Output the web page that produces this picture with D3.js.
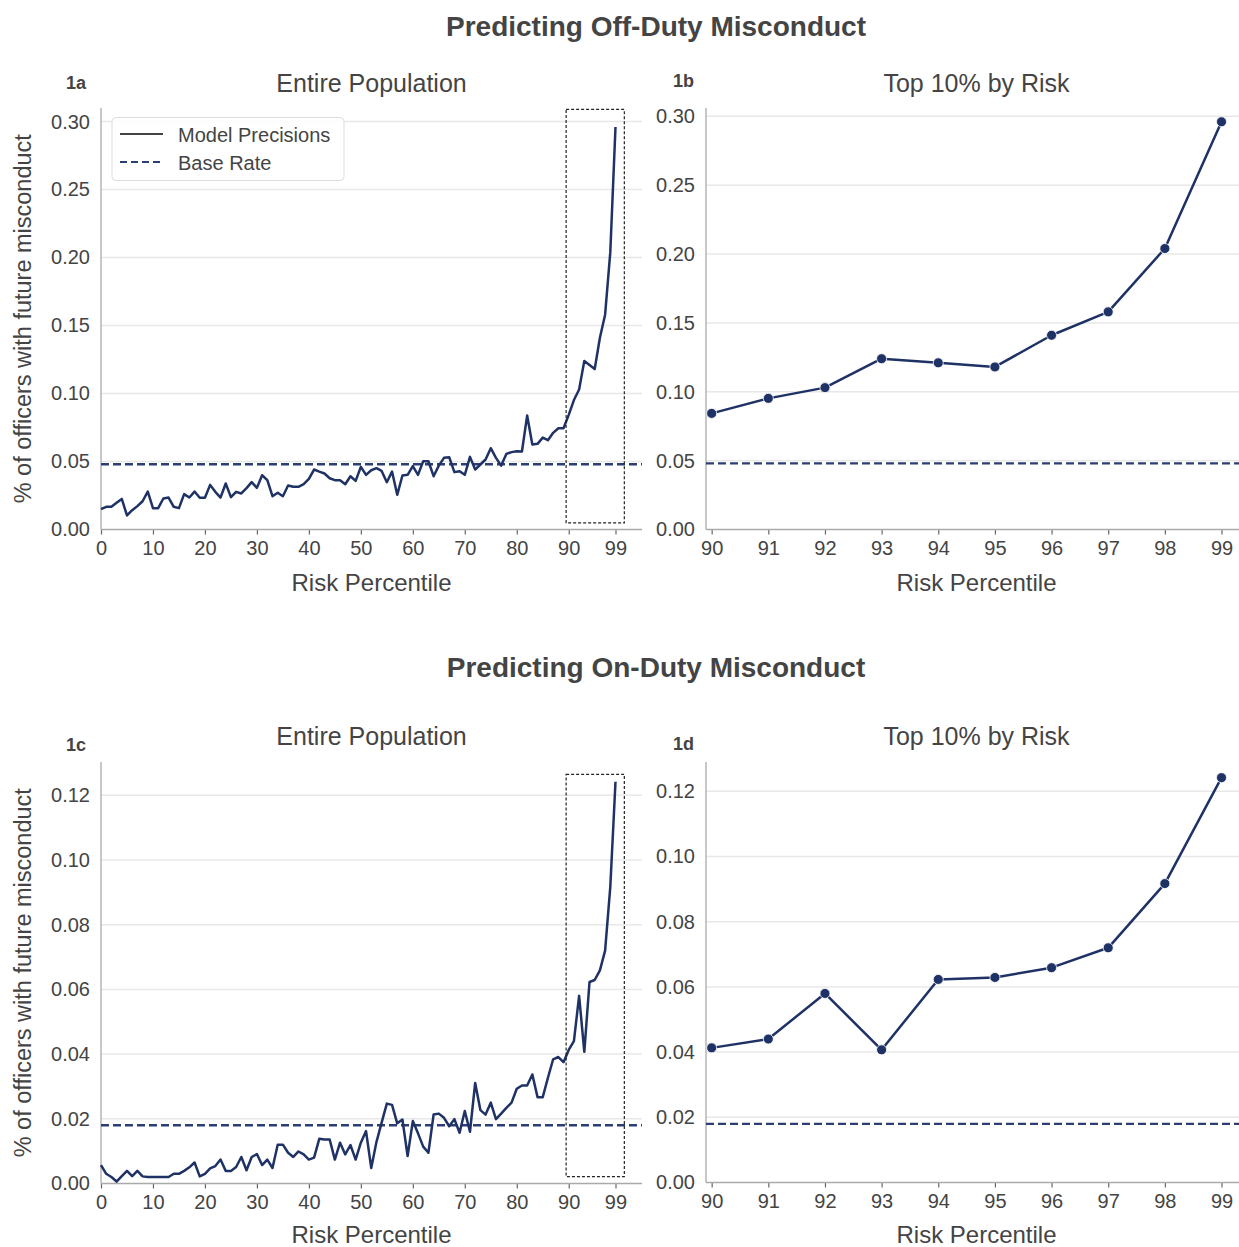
<!DOCTYPE html>
<html>
<head>
<meta charset="utf-8">
<script src="https://cdn.jsdelivr.net/npm/d3@7"></script>
<style>
  html, body { margin: 0; padding: 0; background: #fff; }
  svg { display: block; font-family: "Liberation Sans", Arial, sans-serif; }
</style>
</head>
<body>
<div id="chart"></div>
<script>
// risk percentiles 0..99
const percentiles = d3.range(100);
const topPercentiles = [90, 91, 92, 93, 94, 95, 96, 97, 98, 99];

// off-duty model precision by percentile
const offDuty = [
  0.015, 0.0167, 0.0167, 0.0196, 0.0225, 0.0103, 0.0142, 0.0172, 0.0208, 0.0279,
  0.0157, 0.0157, 0.0228, 0.0235, 0.0167, 0.0157, 0.026, 0.0235, 0.0279, 0.0233,
  0.0233, 0.0328, 0.0277, 0.0235, 0.0338, 0.0238, 0.0277, 0.0265, 0.0304, 0.0348,
  0.0306, 0.0399, 0.0363, 0.0245, 0.027, 0.0245, 0.0324, 0.0314, 0.0314, 0.0333,
  0.0372, 0.0441, 0.0426, 0.0412, 0.0377, 0.0363, 0.0363, 0.0333, 0.0392, 0.0358,
  0.0461, 0.0402, 0.0436, 0.0451, 0.0431, 0.0348, 0.0426, 0.0255, 0.0397, 0.0402,
  0.0466, 0.0402, 0.0502, 0.0502, 0.0392, 0.047, 0.0527, 0.0532, 0.0422, 0.0429,
  0.0402, 0.0534, 0.0441, 0.0478, 0.0515, 0.0598, 0.0527, 0.047, 0.0556, 0.0569,
  0.0576, 0.0574, 0.0838, 0.0625, 0.063, 0.0676, 0.0657, 0.0711, 0.0745, 0.0745,
  0.0843, 0.0952, 0.103, 0.124, 0.121, 0.118, 0.141, 0.158, 0.204, 0.296
];

// on-duty model precision by percentile
const onDuty = [
  0.0057, 0.003, 0.002, 0.0006, 0.0023, 0.0039, 0.0023, 0.0039, 0.0022, 0.002,
  0.002, 0.002, 0.002, 0.002, 0.003, 0.003, 0.0039, 0.005, 0.0065, 0.0022,
  0.003, 0.0047, 0.0054, 0.0074, 0.0039, 0.0039, 0.0051, 0.0082, 0.0041, 0.0082,
  0.0091, 0.0057, 0.0074, 0.0048, 0.012, 0.012, 0.0095, 0.0082, 0.0099, 0.009,
  0.0074, 0.008, 0.0138, 0.0136, 0.0136, 0.0074, 0.0126, 0.009, 0.0119, 0.0074,
  0.0126, 0.0162, 0.0048, 0.0128, 0.0188, 0.0247, 0.0243, 0.0186, 0.0198, 0.0085,
  0.0193, 0.0155, 0.0114, 0.0095, 0.0213, 0.0216, 0.0203, 0.0177, 0.0199, 0.0157,
  0.0224, 0.016, 0.0311, 0.0227, 0.0213, 0.025, 0.0199, 0.0216, 0.0234, 0.025,
  0.0293, 0.0303, 0.0303, 0.0337, 0.0267, 0.0267, 0.0327, 0.0384, 0.0391, 0.0375,
  0.0413, 0.044, 0.058, 0.0407, 0.0623, 0.0629, 0.0659, 0.072, 0.0917, 0.1242
];

const offBaseRate = 0.048;
const onBaseRate = 0.018;

const xTicksFull = [0, 10, 20, 30, 40, 50, 60, 70, 80, 90, 99];
const yTicksOff = [0, 0.05, 0.1, 0.15, 0.2, 0.25, 0.3];
const yTicksOn = [0, 0.02, 0.04, 0.06, 0.08, 0.1, 0.12];

const suptitles = ["Predicting Off-Duty Misconduct", "Predicting On-Duty Misconduct"];
const legendLabels = ["Model Precisions", "Base Rate"];

const W = 1239, H = 1247;
const navy = "#1f3266";
const dashNavy = "#2c3f74";
const textColor = "#444";

const svg = d3.select("#chart").append("svg")
  .attr("width", W).attr("height", H)
  .attr("viewBox", `0 0 ${W} ${H}`);

svg.append("text").attr("x", 656).attr("y", 36)
  .attr("text-anchor", "middle").attr("font-size", 28).attr("font-weight", "bold")
  .attr("fill", textColor).text(suptitles[0]);
svg.append("text").attr("x", 656).attr("y", 677)
  .attr("text-anchor", "middle").attr("font-size", 28).attr("font-weight", "bold")
  .attr("fill", textColor).text(suptitles[1]);

const panels = [
  { tag: "1a", title: "Entire Population", x: percentiles, y: offDuty, base: offBaseRate,
    left: 101, right: 642, top: 108, bottom: 529.5, xDomain: [0, 104.1], yMax: 0.31,
    xTicks: xTicksFull, yTicks: yTicksOff, full: true, rect: [89.5, 100.7, 0.0048, 0.309],
    titleY: 92, tagX: 76, tagY: 88.5, ylabel: true, legend: true },
  { tag: "1b", title: "Top 10% by Risk", x: topPercentiles, y: offDuty.slice(90), base: offBaseRate,
    left: 706, right: 1247, top: 108, bottom: 529.5, xDomain: [89.9, 99.45], yMax: 0.306,
    xTicks: topPercentiles, yTicks: yTicksOff, full: false,
    titleY: 92, tagX: 683.5, tagY: 87 },
  { tag: "1c", title: "Entire Population", x: percentiles, y: onDuty, base: onBaseRate,
    left: 101, right: 642, top: 762, bottom: 1183.5, xDomain: [0, 104.1], yMax: 0.1303,
    xTicks: xTicksFull, yTicks: yTicksOn, full: true, rect: [89.5, 100.7, 0.0021, 0.1265],
    titleY: 745, tagX: 76, tagY: 751, ylabel: true },
  { tag: "1d", title: "Top 10% by Risk", x: topPercentiles, y: onDuty.slice(90), base: onBaseRate,
    left: 706, right: 1247, top: 762, bottom: 1182.5, xDomain: [89.9, 99.45], yMax: 0.129,
    xTicks: topPercentiles, yTicks: yTicksOn, full: false,
    titleY: 745, tagX: 683.5, tagY: 750 }
];

panels.forEach(drawPanel);

function drawPanel(p) {
  const x = d3.scaleLinear().domain(p.xDomain).range([p.left, p.right]);
  const y = d3.scaleLinear().domain([0, p.yMax]).range([p.bottom, p.top]);
  const g = svg.append("g");

  // horizontal grid
  g.append("g").selectAll("line").data(p.yTicks.filter((t) => t > 0)).join("line")
    .attr("x1", p.left).attr("x2", p.right)
    .attr("y1", (d) => y(d)).attr("y2", (d) => y(d))
    .attr("stroke", "#e8e8e8").attr("stroke-width", 1.5);

  // y axis (labels only, no ticks)
  const yAxis = g.append("g").attr("transform", `translate(${p.left},0)`)
    .call(d3.axisLeft(y).tickValues(p.yTicks).tickFormat(d3.format(".2f")).tickSize(0).tickPadding(11));
  yAxis.select(".domain").remove();
  yAxis.selectAll("text").attr("font-size", 20).attr("fill", textColor)
    .attr("font-family", "Liberation Sans, Arial, sans-serif");

  // x axis
  const xAxis = g.append("g").attr("transform", `translate(0,${p.bottom})`)
    .call(d3.axisBottom(x).tickValues(p.xTicks).tickFormat(d3.format("d")).tickSize(5).tickPadding(6));
  xAxis.select(".domain").remove();
  xAxis.selectAll("line").attr("stroke", "#666").attr("stroke-width", 1.2);
  xAxis.selectAll("text").attr("font-size", 20).attr("fill", textColor)
    .attr("font-family", "Liberation Sans, Arial, sans-serif");

  // spines
  g.append("line").attr("x1", p.left).attr("x2", p.left).attr("y1", p.top).attr("y2", p.bottom)
    .attr("stroke", "#aaa").attr("stroke-width", 1.3);
  g.append("line").attr("x1", p.left).attr("x2", p.right).attr("y1", p.bottom).attr("y2", p.bottom)
    .attr("stroke", "#aaa").attr("stroke-width", 1.3);

  // base rate
  g.append("line").attr("x1", p.left).attr("x2", p.right)
    .attr("y1", y(p.base)).attr("y2", y(p.base))
    .attr("stroke", dashNavy).attr("stroke-width", 2.3).attr("stroke-dasharray", "8,4");

  // precision line
  const rows = p.x.map((v, i) => ({ x: v, y: p.y[i] }));
  const line = d3.line().x((d) => x(d.x)).y((d) => y(d.y));
  g.append("path").datum(rows).attr("d", line)
    .attr("fill", "none").attr("stroke", navy).attr("stroke-width", 2.5)
    .attr("stroke-linejoin", "round");

  if (!p.full) {
    g.append("g").selectAll("circle").data(rows).join("circle")
      .attr("cx", (d) => x(d.x)).attr("cy", (d) => y(d.y)).attr("r", 5)
      .attr("fill", navy).attr("stroke", "#fff").attr("stroke-width", 0.8);
  }

  if (p.rect) {
    const [x0, x1, y0, y1] = p.rect;
    g.append("rect").attr("x", x(x0)).attr("y", y(y1))
      .attr("width", x(x1) - x(x0)).attr("height", y(y0) - y(y1))
      .attr("fill", "none").attr("stroke", "#222").attr("stroke-width", 1.2)
      .attr("stroke-dasharray", "3,2");
  }

  // titles
  g.append("text").attr("x", (p.left + p.right) / 2).attr("y", p.titleY)
    .attr("text-anchor", "middle").attr("font-size", 25).attr("fill", textColor)
    .text(p.title);
  g.append("text").attr("x", p.tagX).attr("y", p.tagY)
    .attr("text-anchor", "middle").attr("font-size", 18).attr("font-weight", "bold")
    .attr("fill", textColor).text(p.tag);
  g.append("text").attr("x", (p.left + p.right) / 2).attr("y", Math.min(p.bottom + 61, 1243))
    .attr("text-anchor", "middle").attr("font-size", 24).attr("fill", textColor)
    .text("Risk Percentile");

  if (p.ylabel) {
    const cy = (p.top + p.bottom) / 2;
    g.append("text").attr("transform", `translate(31,${cy}) rotate(-90)`)
      .attr("text-anchor", "middle").attr("font-size", 23.5).attr("fill", textColor)
      .text("% of officers with future misconduct");
  }

  if (p.legend) {
    const lg = g.append("g");
    lg.append("rect").attr("x", 112).attr("y", 117.5).attr("width", 232).attr("height", 63)
      .attr("rx", 4).attr("fill", "#fff").attr("fill-opacity", 0.85)
      .attr("stroke", "#ddd").attr("stroke-width", 1);
    lg.append("line").attr("x1", 120).attr("x2", 163).attr("y1", 134).attr("y2", 134)
      .attr("stroke", "#444").attr("stroke-width", 2.2);
    lg.append("line").attr("x1", 120).attr("x2", 163).attr("y1", 162).attr("y2", 162)
      .attr("stroke", dashNavy).attr("stroke-width", 2.2).attr("stroke-dasharray", "7,4");
    lg.selectAll("text").data(legendLabels).join("text")
      .attr("x", 178).attr("y", (d, i) => 141.5 + i * 28.5)
      .attr("font-size", 20).attr("fill", textColor).text((d) => d);
  }
}
</script>
</body>
</html>
